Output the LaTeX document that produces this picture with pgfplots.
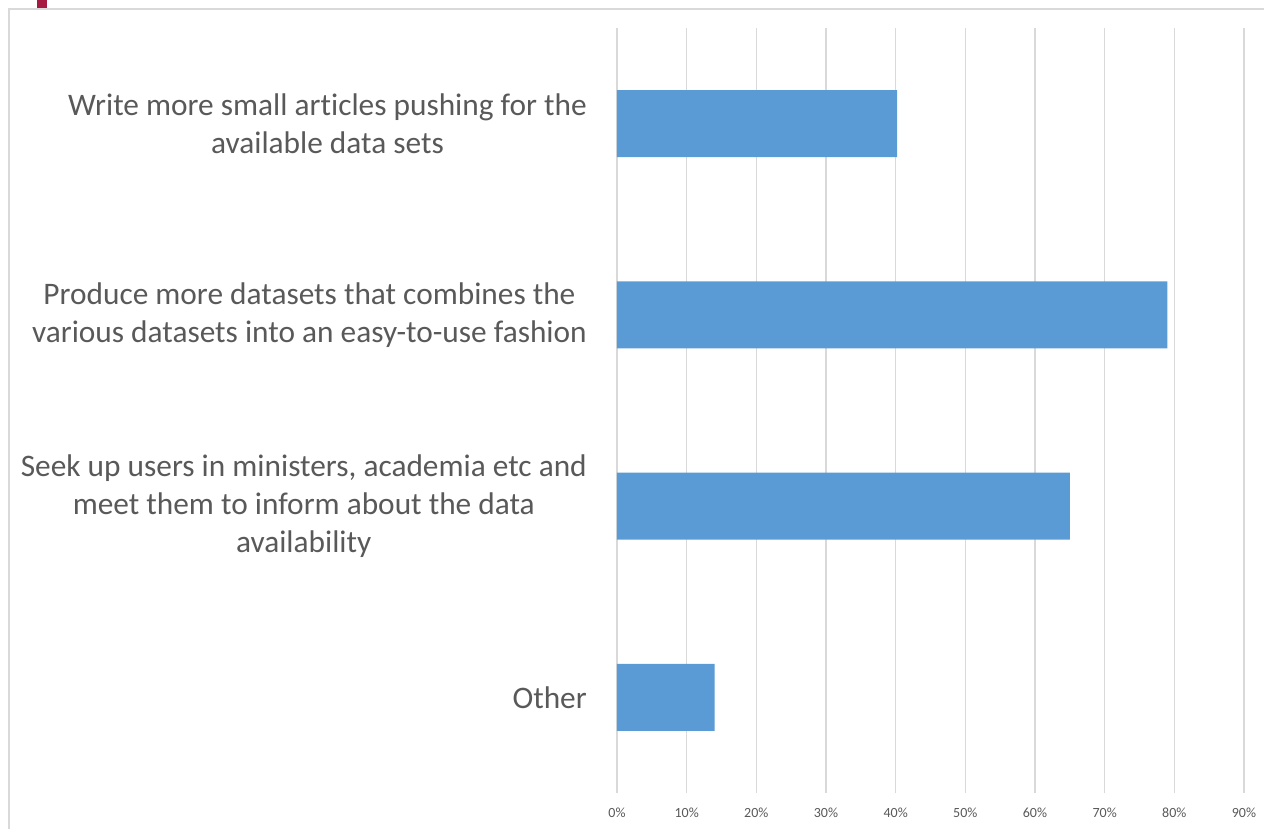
\documentclass[border=0pt]{standalone}
\usepackage{pgfplots}
\pgfplotsset{compat=1.18}
\usepackage{fontspec}
\setmainfont[Ligatures=NoCommon]{Carlito}
\definecolor{barblue}{HTML}{5B9BD5}
\definecolor{txtgray}{HTML}{595959}
\definecolor{gridgray}{HTML}{D9D9D9}
\definecolor{framegray}{HTML}{D9D9D9}
\definecolor{markred}{RGB}{166,25,64}
\begin{document}
\begin{tikzpicture}
\useasboundingbox (0,0) rectangle (948pt,621.75pt);
% frame
\draw[framegray, line width=1.6pt] (6.75pt,0) -- (6.75pt,615pt) -- (948pt,615pt);
\fill[markred] (27.75pt,615.75pt) rectangle (35.25pt,621.75pt);
\begin{axis}[
  at={(462.75pt,27pt)}, anchor=south west,
  width=470.25pt, height=573.75pt, scale only axis,
  xmin=0, xmax=90, ymin=-0.5, ymax=3.5,
  xbar, bar width=0.35,
  axis line style={draw=none},
  major tick length=0pt,
  xtick={0,10,...,90},
  xticklabels={0\%,10\%,20\%,30\%,40\%,50\%,60\%,70\%,80\%,90\%},
  ytick={0,1,2,3},
  yticklabels={Other,
    {Seek up users in ministers, academia etc and\\meet them to inform about the data\\availability},
    {Produce more datasets that combines the\\various datasets into an easy-to-use fashion},
    {Write more small articles pushing for the\\available data sets}},
  xmajorgrids,
  major grid style={gridgray, line width=1.2pt},
  /pgf/number format/assume math mode=true,
  xticklabel style={font=\fontsize{10.5pt}{12pt}\selectfont, text=txtgray, anchor=center, yshift=-15pt},
  yticklabel style={font=\fontsize{23.5pt}{28.5pt}\selectfont, text=txtgray, align=center, anchor=east, inner sep=0pt, xshift=-22.5pt},
]
\addplot[fill=barblue, draw=none] coordinates {(14,0) (65,1) (79,2) (40.2,3)};
\end{axis}
\end{tikzpicture}
\end{document}
